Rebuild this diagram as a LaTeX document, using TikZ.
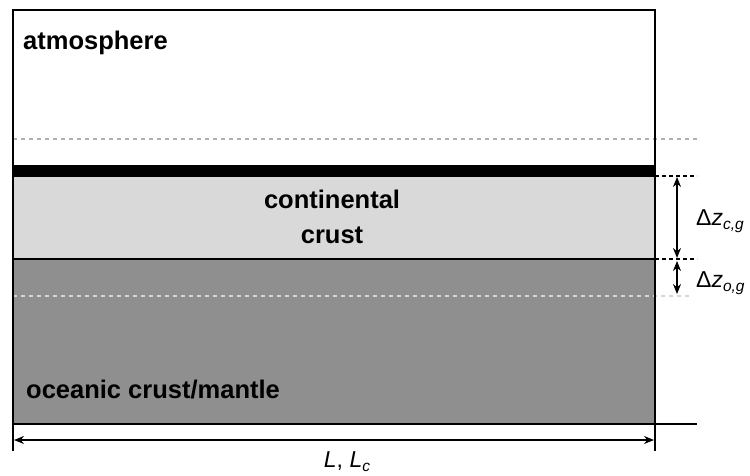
\documentclass[tikz,border=0pt]{standalone}
\usepackage{fontspec}
\setmainfont{Liberation Sans}
\usetikzlibrary{arrows.meta}
\definecolor{lightcrust}{HTML}{D9D9D9}
\definecolor{darkcrust}{HTML}{8F8F8F}
\definecolor{dashgrey}{HTML}{AFAFAF}
\definecolor{dashlight}{HTML}{D6D6D6}
\tikzset{
  border/.style={line width=1.8pt, black},
  gdash/.style={line width=1.3pt, dashgrey, dash pattern=on 4pt off 4pt},
  ldash/.style={line width=1.3pt, dashlight, dash pattern=on 4pt off 4pt},
  bdash/.style={line width=1.3pt, black, dash pattern=on 4pt off 3pt},
  dim/.style={line width=1.4pt, black, {Stealth[length=10pt,width=8pt]}-{Stealth[length=10pt,width=8pt]}},
  boldlabel/.style={inner sep=0pt, font=\fontsize{25.5}{34.5}\selectfont\bfseries},
  dimlabel/.style={inner sep=0pt, font=\fontsize{23}{26}\selectfont}
}
\newcommand{\subtxt}[1]{\raisebox{-0.4ex}{\fontsize{15.5}{16}\selectfont\textit{#1}}}
\begin{document}
\begin{tikzpicture}[x=1pt,y=-1pt]
\useasboundingbox (0,0) rectangle (750,475);
\fill[white] (0,0) rectangle (750,475);
% corners
\coordinate (tl) at (13,10);
\coordinate (tr) at (655,10);
\coordinate (bl) at (13,424);
\coordinate (br) at (655,424);
% layers
\fill[darkcrust] (13,259) rectangle (655,424);
\fill[lightcrust] (13,177) rectangle (655,259);
\fill[black] (13,165) rectangle (655,177);
% dashed guide lines
\coordinate (ga) at (13,139);
\coordinate (gb) at (697,139);
\draw[gdash] (ga) -- (gb);
\coordinate (la) at (13,296);
\coordinate (lb) at (692,296);
\draw[ldash] (la) -- (lb);
% borders
\coordinate (ml) at (13,259);
\coordinate (mr) at (655,259);
\draw[border] (ml) -- (mr);
\draw[border] (tl) -- (tr) -- (br) -- (bl) -- cycle;
\coordinate (bx) at (697,424);
\draw[border] (br) -- (bx);
\coordinate (tickl) at (13,451);
\coordinate (tickr) at (655,451);
\draw[border] (bl) -- (tickl);
\draw[border] (br) -- (tickr);
% black dashes at right
\coordinate (ca) at (655,176);
\coordinate (cb) at (697,176);
\draw[bdash] (ca) -- (cb);
\coordinate (da) at (655,259);
\coordinate (db) at (697,259);
\draw[bdash] (da) -- (db);
% dimension arrows
\coordinate (a1) at (677,177);
\coordinate (a2) at (677,258);
\draw[dim] (a1) -- (a2);
\coordinate (a3) at (677,261);
\coordinate (a4) at (677,294);
\draw[dim] (a3) -- (a4);
\coordinate (h1) at (14,440);
\coordinate (h2) at (654,440);
\draw[dim] (h1) -- (h2);
% labels
\node[boldlabel, anchor=base west] (atm) at (23,49) {atmosphere};
\node[boldlabel, anchor=base] (cont) at (332,208) {continental};
\node[boldlabel, anchor=base] (crust) at (332,243) {crust};
\node[boldlabel, anchor=base west] (ocean) at (26,398) {oceanic crust/mantle};
\node[dimlabel, anchor=base west] (dzc) at (696,225) {Δ\textit{z}\subtxt{c,g}};
\node[dimlabel, anchor=base west] (dzo) at (696,287) {Δ\textit{z}\subtxt{o,g}};
\node[dimlabel, anchor=base] (len) at (347,467) {\textit{L}, \textit{L}\subtxt{c}};
\end{tikzpicture}
\end{document}
